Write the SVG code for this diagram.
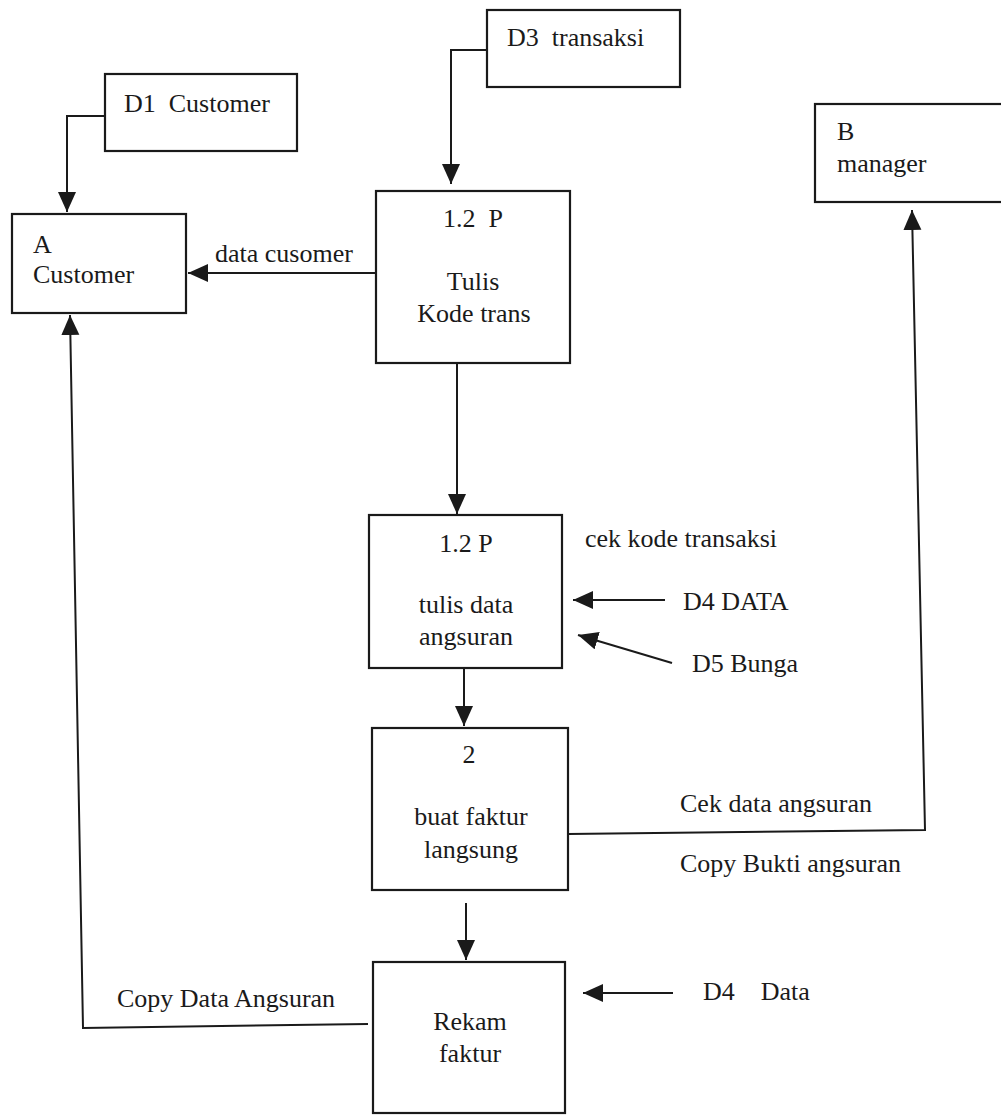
<svg xmlns="http://www.w3.org/2000/svg" width="1001" height="1115" viewBox="0 0 1001 1115">
<style>
  .box { fill: #fff; stroke: #1a1a1a; stroke-width: 2.2; }
  .ln { fill: none; stroke: #1a1a1a; stroke-width: 2; }
  .arr { marker-end: url(#ah); }
  text { font-family: "Liberation Serif", "Times New Roman", serif; font-size: 26px; fill: #1a1a1a; }
  .c { text-anchor: middle; }
</style>
<defs>
  <marker id="ah" markerUnits="userSpaceOnUse" markerWidth="22" markerHeight="20" refX="20" refY="9" orient="auto">
    <path d="M0,0 L20,9 L0,18 z" fill="#1a1a1a"/>
  </marker>
</defs>
<rect width="1001" height="1115" fill="#fff"/>

<g id="connectors">
  <polyline class="ln arr" points="105,116 67,116 67,212"/>
  <polyline class="ln arr" points="487,50 451,50 451,184"/>
  <line class="ln arr" x1="376" y1="273" x2="188" y2="273"/>
  <line class="ln arr" x1="457" y1="363" x2="457" y2="514"/>
  <line class="ln arr" x1="665" y1="600" x2="573" y2="600"/>
  <line class="ln arr" x1="672" y1="663" x2="578" y2="635"/>
  <line class="ln arr" x1="464" y1="668" x2="464" y2="726"/>
  <polyline class="ln arr" points="568,834 925,830 912,210"/>
  <line class="ln arr" x1="466" y1="903" x2="466" y2="960"/>
  <line class="ln arr" x1="673" y1="993" x2="583" y2="993"/>
  <polyline class="ln arr" points="368,1024 83,1028 70,315"/>
</g>

<g id="D1">
  <rect class="box" x="105" y="74" width="192" height="77"/>
  <text x="124" y="112" xml:space="preserve">D1  Customer</text>
</g>
<g id="D3">
  <rect class="box" x="487" y="10" width="193" height="77"/>
  <text x="507" y="46" xml:space="preserve">D3  transaksi</text>
</g>
<g id="A">
  <rect class="box" x="12" y="214" width="174" height="99"/>
  <text x="33" y="253">A</text>
  <text x="33" y="283">Customer</text>
</g>
<g id="B">
  <rect class="box" x="815" y="104" width="200" height="98"/>
  <text x="837" y="140">B</text>
  <text x="837" y="172">manager</text>
</g>
<g id="P1">
  <rect class="box" x="376" y="191" width="194" height="172"/>
  <text x="443" y="227" xml:space="preserve">1.2  P</text>
  <text class="c" x="473" y="290">Tulis</text>
  <text class="c" x="474" y="322">Kode trans</text>
</g>
<g id="P2">
  <rect class="box" x="369" y="515" width="193" height="153"/>
  <text class="c" x="466" y="552">1.2 P</text>
  <text class="c" x="466" y="613">tulis data</text>
  <text class="c" x="466" y="645">angsuran</text>
</g>
<g id="P3">
  <rect class="box" x="372" y="728" width="196" height="162"/>
  <text class="c" x="469" y="763">2</text>
  <text class="c" x="471" y="825">buat faktur</text>
  <text class="c" x="471" y="858">langsung</text>
</g>
<g id="P4">
  <rect class="box" x="373" y="962" width="192" height="151"/>
  <text class="c" x="470" y="1030">Rekam</text>
  <text class="c" x="470" y="1062">faktur</text>
</g>

<g id="labels">
  <text x="215" y="262">data cusomer</text>
  <text x="585" y="547">cek kode transaksi</text>
  <text x="683" y="610">D4 DATA</text>
  <text x="692" y="672">D5 Bunga</text>
  <text x="680" y="812">Cek data angsuran</text>
  <text x="680" y="872">Copy Bukti angsuran</text>
  <text x="117" y="1007">Copy Data Angsuran</text>
  <text x="703" y="1000" xml:space="preserve">D4    Data</text>
</g>
</svg>
